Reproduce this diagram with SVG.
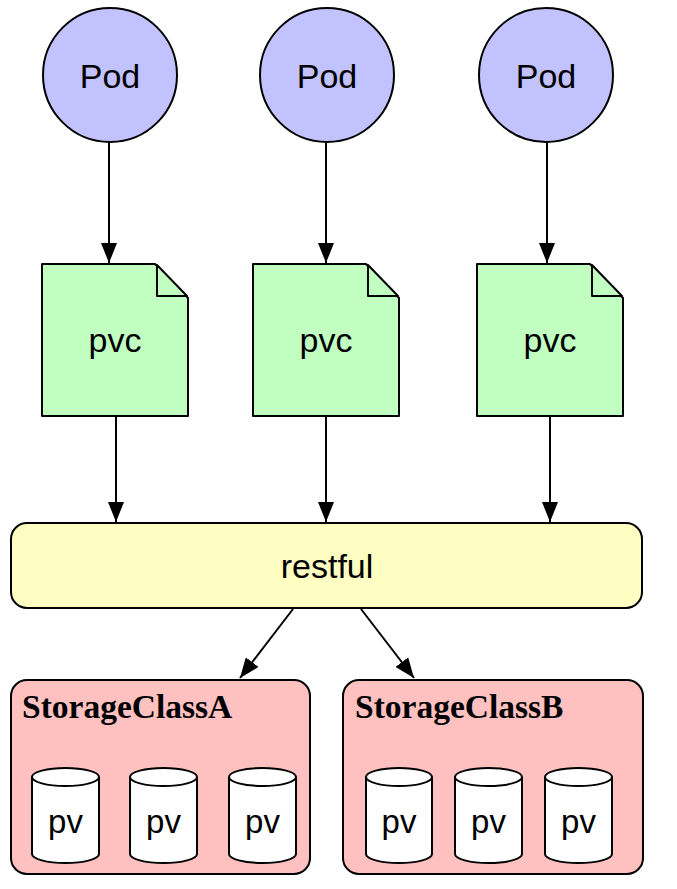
<svg xmlns="http://www.w3.org/2000/svg" width="677" height="889" viewBox="0 0 677 889">
<defs>
<style>
.pod{fill:#c2c2fe;stroke:#000;stroke-width:2}
.pvc{fill:#c0ffc0;stroke:#000;stroke-width:2;stroke-linejoin:round}
.fold{fill:#c0ffc0;stroke:#000;stroke-width:2;stroke-linejoin:round}
.rest{fill:#fefec2;stroke:#000;stroke-width:2}
.sc{fill:#ffc0c0;stroke:#000;stroke-width:2}
.cyl{fill:#fff;stroke:#000;stroke-width:2}
.rim{fill:none;stroke:#000;stroke-width:2}
.t{font-family:"Liberation Sans",Arial,sans-serif;font-size:34px;fill:#000;text-anchor:middle}
.pv{font-family:"Liberation Sans",Arial,sans-serif;font-size:33px;fill:#000;text-anchor:middle}
.lbl{font-family:"Liberation Serif","Times New Roman",serif;font-weight:bold;font-size:33.5px;fill:#000}
.edge{stroke:#000;stroke-width:2;fill:none;marker-end:url(#arr)}
</style>
<marker id="arr" markerUnits="userSpaceOnUse" markerWidth="22" markerHeight="16" refX="20" refY="8" orient="auto">
<path d="M0,0 L20,8 L0,16 z" fill="#000"/>
</marker>
</defs>
<rect width="677" height="889" fill="#fff"/>
<g id="connectors">
<line class="edge" x1="109" y1="142" x2="109" y2="263"/>
<line class="edge" x1="326" y1="142" x2="326" y2="263"/>
<line class="edge" x1="547" y1="142" x2="547" y2="263"/>
<line class="edge" x1="116" y1="416" x2="116" y2="522"/>
<line class="edge" x1="326" y1="416" x2="326" y2="522"/>
<line class="edge" x1="550" y1="416" x2="550" y2="522"/>
<line class="edge" x1="293" y1="609" x2="240" y2="678"/>
<line class="edge" x1="361" y1="609" x2="414" y2="678"/>
</g>
<g id="pod1"><circle class="pod" cx="110" cy="75" r="67"/><text class="t" x="110" y="88">Pod</text></g>
<g id="pod2"><circle class="pod" cx="327" cy="75" r="67"/><text class="t" x="327" y="88">Pod</text></g>
<g id="pod3"><circle class="pod" cx="546" cy="75" r="67"/><text class="t" x="546" y="88">Pod</text></g>
<g id="pvc1"><path class="pvc" d="M42,264 H155 L188,298 V416 H42 Z"/><path class="fold" d="M157,265 L187,296 L157,296 Z"/><text class="t" x="115" y="352">pvc</text></g>
<g id="pvc2"><path class="pvc" d="M253,264 H366 L399,298 V416 H253 Z"/><path class="fold" d="M368,265 L398,296 L368,296 Z"/><text class="t" x="326" y="352">pvc</text></g>
<g id="pvc3"><path class="pvc" d="M477,264 H590 L623,298 V416 H477 Z"/><path class="fold" d="M592,265 L622,296 L592,296 Z"/><text class="t" x="550" y="352">pvc</text></g>
<g id="restful"><rect class="rest" x="11" y="523" width="631" height="85" rx="16"/><text class="t" x="327" y="578">restful</text></g>
<g id="storageClassA">
<rect class="sc" x="11" y="680" width="299" height="194" rx="16"/>
<text class="lbl" x="22" y="718">StorageClassA</text>
<g id="pvA1"><path class="cyl" d="M32,777 a33.5,9 0 0,1 67,0 v77 a33.5,9 0 0,1 -67,0 z"/><path class="rim" d="M32,777 a33.5,9 0 0,0 67,0"/><text class="pv" x="65.5" y="833">pv</text></g>
<g id="pvA2"><path class="cyl" d="M130,777 a33.5,9 0 0,1 67,0 v77 a33.5,9 0 0,1 -67,0 z"/><path class="rim" d="M130,777 a33.5,9 0 0,0 67,0"/><text class="pv" x="163.5" y="833">pv</text></g>
<g id="pvA3"><path class="cyl" d="M229,777 a33.5,9 0 0,1 67,0 v77 a33.5,9 0 0,1 -67,0 z"/><path class="rim" d="M229,777 a33.5,9 0 0,0 67,0"/><text class="pv" x="262.5" y="833">pv</text></g>
</g>
<g id="storageClassB">
<rect class="sc" x="343" y="680" width="300" height="194" rx="16"/>
<text class="lbl" x="355" y="718">StorageClassB</text>
<g id="pvB1"><path class="cyl" d="M366,777 a33,9 0 0,1 66,0 v77 a33,9 0 0,1 -66,0 z"/><path class="rim" d="M366,777 a33,9 0 0,0 66,0"/><text class="pv" x="399" y="833">pv</text></g>
<g id="pvB2"><path class="cyl" d="M455,777 a33.5,9 0 0,1 67,0 v77 a33.5,9 0 0,1 -67,0 z"/><path class="rim" d="M455,777 a33.5,9 0 0,0 67,0"/><text class="pv" x="488.5" y="833">pv</text></g>
<g id="pvB3"><path class="cyl" d="M545,777 a33.5,9 0 0,1 67,0 v77 a33.5,9 0 0,1 -67,0 z"/><path class="rim" d="M545,777 a33.5,9 0 0,0 67,0"/><text class="pv" x="578.5" y="833">pv</text></g>
</g>
</svg>
